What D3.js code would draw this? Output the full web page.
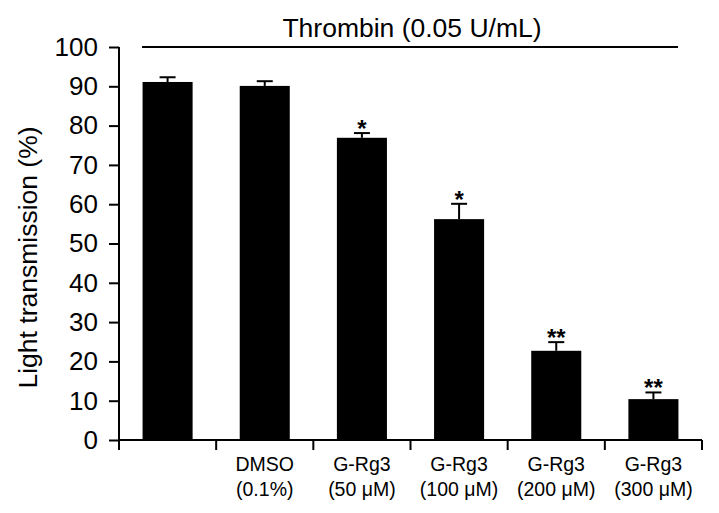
<!DOCTYPE html>
<html>
<head>
<meta charset="utf-8">
<script src="https://cdn.jsdelivr.net/npm/d3@7"></script>
<style>
  body { margin: 0; background: #fff; }
  svg { font-family: "Liberation Sans", Arial, sans-serif; }
</style>
</head>
<body>
<div id="graf"></div>
<script>
// Datos
const grupos = ["Control", "DMSO", "G-Rg3 50", "G-Rg3 100", "G-Rg3 200", "G-Rg3 300"]
const linea1 = ["", "DMSO", "G-Rg3", "G-Rg3", "G-Rg3", "G-Rg3"]
const linea2 = ["", "(0.1%)", "(50 \u03bcM)", "(100 \u03bcM)", "(200 \u03bcM)", "(300 \u03bcM)"]
const valores = [91.1, 90.1, 76.9, 56.2, 22.7, 10.4]
const errores = [1.2, 1.2, 1.2, 3.9, 2.2, 1.7]
const signif = ["", "", "*", "*", "**", "**"]
const ticksY = [0, 10, 20, 30, 40, 50, 60, 70, 80, 90, 100]

const anchoTotal = 719
const altoTotal = 513
const margins = { top: 47, right: 17, bottom: 73, left: 119 }
const ancho = anchoTotal - margins.left - margins.right
const alto = altoTotal - margins.top - margins.bottom

const svg = d3.select("#graf")
  .append("svg")
  .attr("width", anchoTotal)
  .attr("height", altoTotal)
const g = svg.append("g")
  .attr("transform", `translate(${margins.left}, ${margins.top})`)

// Escaladores
const y = d3.scaleLinear().domain([0, 100]).range([alto, 0])
const x = d3.scaleBand()
  .domain(grupos)
  .range([0, ancho])
  .paddingInner(0.485)
  .paddingOuter(0.2425)

// Ejes
const yAxisGroup = g.append("g")
  .call(d3.axisLeft(y).tickValues(ticksY).tickSize(10).tickPadding(11))
yAxisGroup.select(".domain").attr("stroke-width", 2).attr("d", `M0,${alto}V0`)
yAxisGroup.selectAll(".tick line").attr("stroke-width", 2)
yAxisGroup.selectAll(".tick text").attr("font-size", 26).attr("fill", "#000")

const paso = ancho / grupos.length
const xAxisGroup = g.append("g").attr("transform", `translate(0, ${alto})`)
xAxisGroup.append("line")
  .attr("x1", 0).attr("x2", ancho)
  .attr("stroke", "#000").attr("stroke-width", 2)
xAxisGroup.selectAll("line.tk")
  .data(d3.range(grupos.length + 1))
  .join("line")
  .attr("class", "tk")
  .attr("x1", (d) => d * paso).attr("x2", (d) => d * paso)
  .attr("y1", 0).attr("y2", 10)
  .attr("stroke", "#000").attr("stroke-width", 2)

const etiquetas = xAxisGroup.selectAll("text.lab")
  .data(grupos)
  .join("text")
  .attr("class", "lab")
  .attr("text-anchor", "middle")
  .attr("font-size", 19.5)
  .attr("x", (d) => x(d) + x.bandwidth() / 2)
etiquetas.append("tspan")
  .attr("x", (d) => x(d) + x.bandwidth() / 2)
  .attr("y", 31)
  .text((d, i) => linea1[i])
etiquetas.append("tspan")
  .attr("x", (d) => x(d) + x.bandwidth() / 2)
  .attr("y", 56)
  .text((d, i) => linea2[i])

// Barras
g.selectAll("rect.bar")
  .data(grupos)
  .join("rect")
  .attr("class", "bar")
  .attr("x", (d) => x(d))
  .attr("y", (d, i) => y(valores[i]))
  .attr("width", x.bandwidth())
  .attr("height", (d, i) => alto - y(valores[i]))
  .attr("fill", "#000")

// Error (solo superior)
const err = g.selectAll("g.err")
  .data(grupos)
  .join("g")
  .attr("class", "err")
  .attr("stroke", "#000")
  .attr("stroke-width", 2)
err.append("line")
  .attr("x1", (d) => x(d) + x.bandwidth() / 2)
  .attr("x2", (d) => x(d) + x.bandwidth() / 2)
  .attr("y1", (d, i) => y(valores[i]))
  .attr("y2", (d, i) => y(valores[i] + errores[i]))
err.append("line")
  .attr("x1", (d) => x(d) + x.bandwidth() / 2 - 8)
  .attr("x2", (d) => x(d) + x.bandwidth() / 2 + 8)
  .attr("y1", (d, i) => y(valores[i] + errores[i]))
  .attr("y2", (d, i) => y(valores[i] + errores[i]))

// Asteriscos
g.selectAll("text.sig")
  .data(grupos)
  .join("text")
  .attr("class", "sig")
  .attr("text-anchor", "middle")
  .attr("font-size", 24)
  .attr("font-weight", "bold")
  .attr("x", (d) => x(d) + x.bandwidth() / 2)
  .attr("y", (d, i) => y(valores[i] + errores[i]) + 4)
  .text((d, i) => signif[i])

// Titulo y linea
svg.append("line")
  .attr("x1", 142).attr("x2", 678)
  .attr("y1", 47).attr("y2", 47)
  .attr("stroke", "#000").attr("stroke-width", 2)
svg.append("text")
  .attr("x", 412).attr("y", 37)
  .attr("text-anchor", "middle")
  .attr("font-size", 26.5)
  .text("Thrombin (0.05 U/mL)")

// Etiqueta eje Y
svg.append("text")
  .attr("transform", `translate(37, ${margins.top + alto / 2 + 14}) rotate(-90)`)
  .attr("text-anchor", "middle")
  .attr("font-size", 26.5)
  .text("Light transmission (%)")
</script>
</body>
</html>
